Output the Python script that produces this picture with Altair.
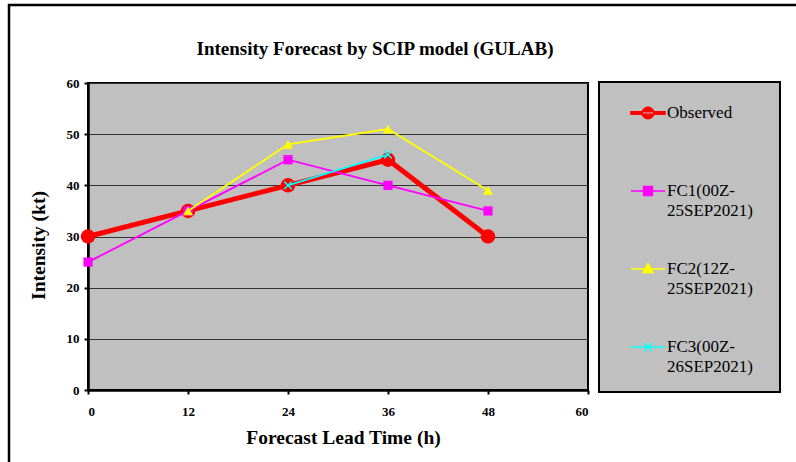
import altair as alt
import pandas as pd

# ---- data ----
hours = [0, 12, 24, 36, 48]
observed = [30, 35, 40, 45, 30]
fc1 = [25, 35, 45, 40, 35]
fc2 = [None, 35, 48, 51, 39]
fc3 = [None, None, 40, 46, None]

series_names = ["Observed", "FC1(00Z-25SEP2021)", "FC2(12Z-25SEP2021)", "FC3(00Z-26SEP2021)"]
series_values = [observed, fc1, fc2, fc3]
series_colors = ["#ff0000", "#ff00ff", "#ffff00", "#00ffff"]
x_ticks = [0, 12, 24, 36, 48, 60]
y_ticks = [0, 10, 20, 30, 40, 50, 60]
chart_title = "Intensity Forecast by SCIP model (GULAB)"

rows = []
for name, vals in zip(series_names, series_values):
    for h, v in zip(hours, vals):
        if v is not None:
            rows.append({"Lead": h, "Intensity": v, "Series": name})
df = pd.DataFrame(rows)

SERIF = "Liberation Serif"

# legend symbols: line + marker drawn as one path (unit = half symbol width)
legend_paths = [
    "M-1,-0.08H1V0.08H-1Z M-0.34,0A0.34,0.34,0,1,0,0.34,0A0.34,0.34,0,1,0,-0.34,0Z",
    "M-1,0H1 M-0.26,-0.26H0.26V0.26H-0.26Z",
    "M-1,0H1 M0,-0.32L0.3,0.2H-0.3Z",
    "M-1,0H1 M-0.25,-0.25L0.25,0.25 M-0.25,0.25L0.25,-0.25",
]

xenc = alt.X("Lead:Q", scale=alt.Scale(domain=[0, 60], nice=False),
             axis=alt.Axis(values=x_ticks, title="Forecast Lead Time (h)", grid=False,
                           titleX=255, titleY=47, titleBaseline="middle", titleAlign="center",
                           labelPadding=11))
yenc = alt.Y("Intensity:Q", scale=alt.Scale(domain=[0, 60], nice=False),
             axis=alt.Axis(values=y_ticks, title="Intensity (kt)", grid=True,
                           titleX=-50, titleY=162, titleAngle=-90, titleBaseline="middle",
                           titleAlign="center", labelPadding=5))

one = pd.DataFrame({"k": [0]})

frame = alt.Chart(one).mark_rect(filled=False, color="black", strokeWidth=2.5).encode(
    x=alt.value(-79), x2=alt.value(800), y=alt.value(-78), y2=alt.value(500))

title_text = alt.Chart(one).mark_text(
    font=SERIF, fontSize=19, fontWeight="bold", color="black", align="center", baseline="middle"
).encode(x=alt.value(287), y=alt.value(-34), text=alt.value(chart_title))

legend_box = alt.Chart(one).mark_rect(fill="#c0c0c0", stroke="black", strokeWidth=2).encode(
    x=alt.value(511), x2=alt.value(692), y=alt.value(-1), y2=alt.value(309))

layers = [frame, title_text, legend_box]

line_widths = [5, 1.8, 1.8, 1.8]
point_shapes = ["circle", "square", "triangle-up", "M-1,-1L1,1M-1,1L1,-1"]
point_sizes = [210, 85, 100, 60]
point_filled = [True, True, True, False]

for name, col, lw, shp, sz, fl in zip(series_names, series_colors, line_widths,
                                      point_shapes, point_sizes, point_filled):
    base = alt.Chart(df).transform_filter(alt.datum.Series == name)
    layers.append(base.mark_line(color=col, strokeWidth=lw).encode(x=xenc, y=yenc))
    if fl:
        layers.append(base.mark_point(shape=shp, size=sz, filled=True, color=col, opacity=1)
                      .encode(x=xenc, y=yenc))
    else:
        layers.append(base.mark_point(shape=shp, size=sz, filled=False, color=col,
                                      strokeWidth=1.5, opacity=1).encode(x=xenc, y=yenc))

label_expr = ("datum.label == 'Observed' ? ['Observed', ''] : "
              "[substring(datum.label, 0, 8), substring(datum.label, 8)]")
leg = alt.Legend(title=None, labelExpr=label_expr)

dummy = alt.Chart(df).mark_point(filled=True, size=1156, strokeWidth=1.5).encode(
    x=alt.value(-2000), y=alt.value(-2000),
    fill=alt.Fill("Series:N", scale=alt.Scale(domain=series_names, range=series_colors), legend=leg),
    stroke=alt.Stroke("Series:N", scale=alt.Scale(domain=series_names, range=series_colors), legend=leg),
    shape=alt.Shape("Series:N", scale=alt.Scale(domain=series_names, range=legend_paths), legend=leg),
)
layers.append(dummy)

chart = alt.layer(*layers).properties(
    width=500, height=307,
    autosize=alt.AutoSizeParams(type="none"),
    padding={"left": 88, "top": 83, "right": 208, "bottom": 72},
    background="white",
).configure(
    style={"guide-label": {"lineHeight": 20}}
).configure_view(
    fill="#c0c0c0", stroke="black", strokeWidth=2
).configure_axis(
    labelFont=SERIF, labelFontSize=13, labelFontWeight="bold", labelColor="black",
    titleFont=SERIF, titleFontSize=19.5, titleFontWeight="bold", titleColor="black",
    domainColor="black", domainWidth=2.5, tickColor="black", tickWidth=2, tickSize=4,
    gridColor="#333333", gridWidth=1.2,
).configure_legend(
    orient="none", legendX=542, legendY=12, padding=0,
    labelFont=SERIF, labelFontSize=17, labelColor="black",
    labelOffset=1, rowPadding=32, symbolSize=1156, symbolStrokeWidth=1.5,
    symbolOpacity=1, labelLimit=300,
)

chart.save("out.html", embed_options={"renderer": "svg", "actions": False})
